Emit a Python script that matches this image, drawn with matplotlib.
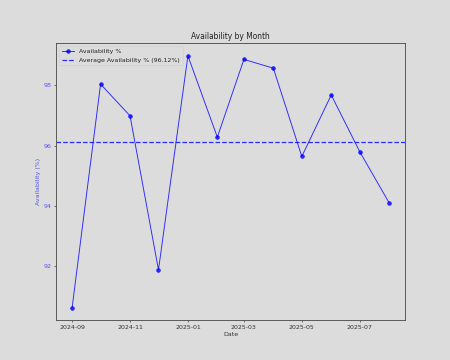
import numpy as np
import pandas as pd
import matplotlib
matplotlib.use("Agg")
import matplotlib.pyplot as plt
import matplotlib.dates as mdates

# monthly availability
months = ["2024-09", "2024-10", "2024-11", "2024-12", "2025-01", "2025-02",
          "2025-03", "2025-04", "2025-05", "2025-06", "2025-07", "2025-08"]
availability = [90.62, 98.04, 96.99, 91.88, 98.98, 96.28,
                98.86, 98.57, 95.64, 97.68, 95.80, 94.10]

dates = pd.to_datetime(months)
avg = np.mean(availability)

bg = "#dcdcdc"
fig, ax = plt.subplots(figsize=(10, 8), dpi=45)
fig.patch.set_facecolor(bg)
ax.set_facecolor(bg)

ax.plot(dates, availability, color="blue", marker="o", markersize=6,
        linewidth=1.5, alpha=0.8, label="Availability %")
ax.axhline(avg, color="blue", linestyle="--", linewidth=2, alpha=0.8,
           label=f"Average Availability % ({avg:.2f}%)")

ax.set_title("Availability by Month", fontsize=12, color="#222222")
ax.set_xlabel("Date", fontsize=10, color="#333333")
ax.set_ylabel("Availability (%)", fontsize=10, color="#5555ee")
ax.tick_params(axis="y", labelcolor="#5555ee", labelsize=10)
ax.tick_params(axis="x", labelcolor="#333333", labelsize=10)
ax.xaxis.set_major_locator(mdates.MonthLocator(bymonth=[1, 3, 5, 7, 9, 11]))
ax.xaxis.set_major_formatter(mdates.DateFormatter("%Y-%m"))
for s in ax.spines.values():
    s.set_color("#555555")
    s.set_linewidth(1.5)

leg = ax.legend(loc="upper left", fontsize=10, facecolor=bg, edgecolor="#cccccc")
for t in leg.get_texts():
    t.set_color("#222222")

fig.savefig("out.png", dpi=45, facecolor=bg)
